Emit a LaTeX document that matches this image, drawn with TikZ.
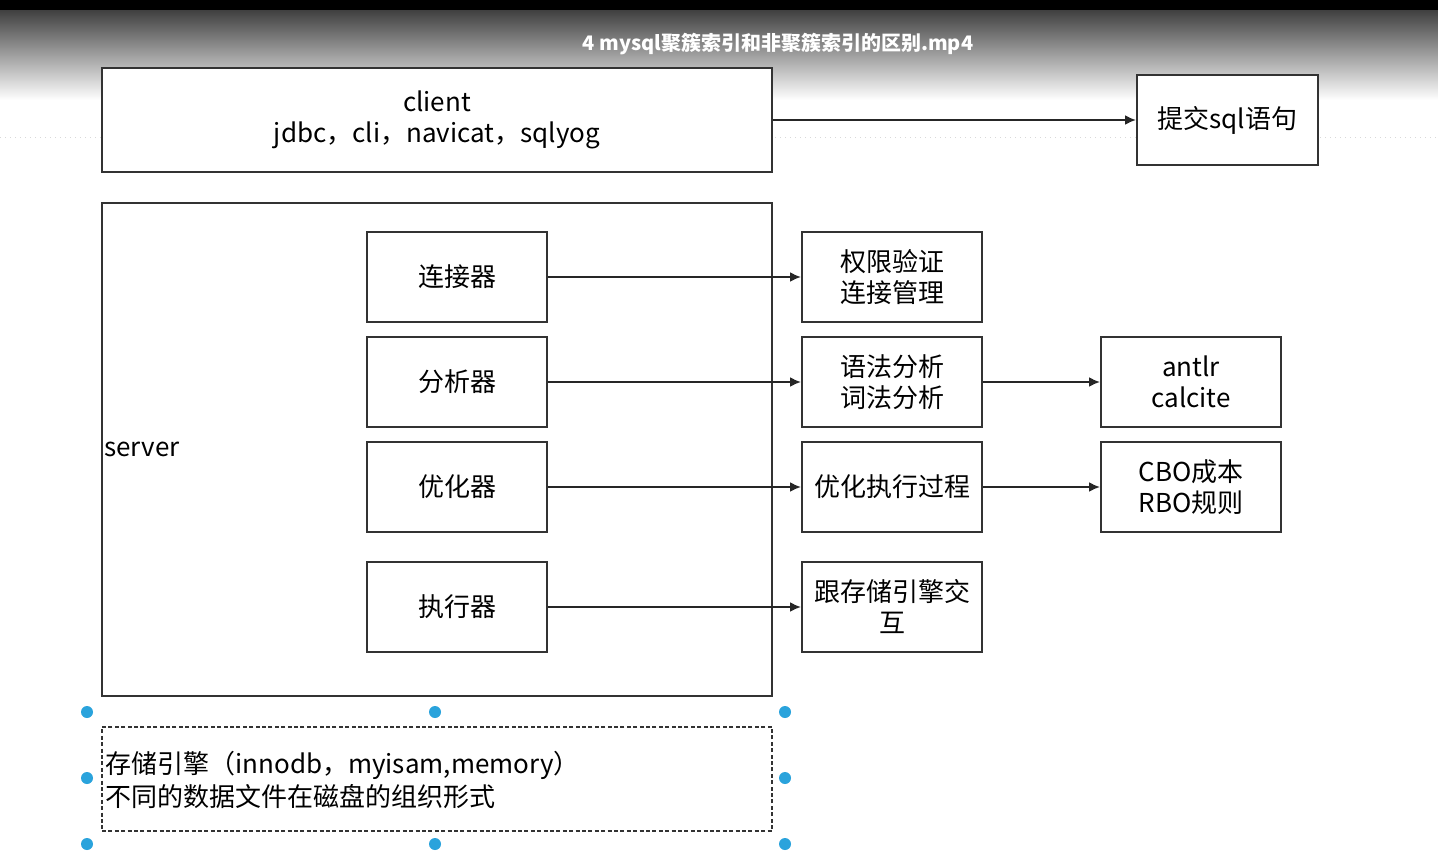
\documentclass[tikz,border=0pt]{standalone}
\usepackage{fontspec}
\setmainfont{Noto Sans CJK SC}
\usepackage{tikz}
\usetikzlibrary{arrows.meta,positioning,calc}
\definecolor{handleblue}{HTML}{2AA3DC}

\begin{document}
\begin{tikzpicture}[
  x=0.5pt,y=-0.5pt,
  node distance=126.5pt,
  box/.style={draw=black!80,line width=1pt,fill=white,align=center,inner sep=2pt,
              minimum width=90pt,minimum height=45pt,font=\fontsize{13}{15.5}\selectfont},
  wide/.style={box,minimum width=335pt,minimum height=52pt},
  ar/.style={-{Latex[length=5.5pt,width=5pt]},line width=1pt,draw=black!85},
  handle/.style={circle,fill=handleblue,inner sep=0pt,minimum size=6pt}
]
\useasboundingbox (0,0) rectangle (1438,856);
\fill[white] (0,0) rectangle (1438,856);
% video title bar
\fill[top color=black!75,bottom color=white] (0,10) rectangle (1438,100);
\fill[black] (0,0) rectangle (1438,10);
\node[text=white,font=\bfseries\fontsize{10}{12}\selectfont] (title) at (778,44) {4 mysql聚簇索引和非聚簇索引的区别.mp4};
% page grid line
\draw[black!15,dotted,line width=0.5pt] (0,137) -- (1438,137);

% client
\node[wide] (client) at (437,120) {client\\jdbc，cli，navicat，sqlyog};
\node[box,minimum width=90.5pt] (submit) at (1227.5,120) {提交sql语句};
\draw[ar] (client) -- (submit);

% server
\node[box,minimum width=335pt,minimum height=246.5pt] (server) at (437,449.5) {};
\node[anchor=west,inner sep=0pt,font=\fontsize{13}{15}\selectfont] (srvlabel) at (104,449) {server};
\node[box] (conn) at (457,277) {连接器};
\node[box] (parser) at (457,382) {分析器};
\node[box] (opt) at (457,487) {优化器};
\node[box] (exec) at (457,607) {执行器};

% second column
\node[box, right=of conn] (auth) {权限验证\\连接管理};
\node[box, right=of parser] (syntax) {语法分析\\词法分析};
\node[box, right=of opt] (optproc) {优化执行过程};
\node[box, right=of exec] (engine) {跟存储引擎交\\互};

% third column
\node[box, right=58.5pt of syntax] (antlr) {antlr\\calcite};
\node[box, right=58.5pt of optproc] (cbo) {CBO成本\\RBO规则};

\draw[ar] (conn) -- (auth);
\draw[ar] (parser) -- (syntax);
\draw[ar] (opt) -- (optproc);
\draw[ar] (exec) -- (engine);
\draw[ar] (syntax) -- (antlr);
\draw[ar] (optproc) -- (cbo);

% storage engine (selected)
\node[wide,dash pattern=on 2pt off 1.2pt,line width=0.8pt] (storage) at (437,779) {};
\node[anchor=west,align=left,inner sep=0pt,font=\fontsize{13}{16.5}\selectfont] (stext) at (105,780)
  {存储引擎（innodb，myisam,memory）\\不同的数据文件在磁盘的组织形式};
\foreach \hx in {87,435,785}{
  \node[handle] at (\hx,712) {};
  \node[handle] at (\hx,844) {};
}
\node[handle] at (87,778) {};
\node[handle] at (785,778) {};
\end{tikzpicture}
\end{document}
